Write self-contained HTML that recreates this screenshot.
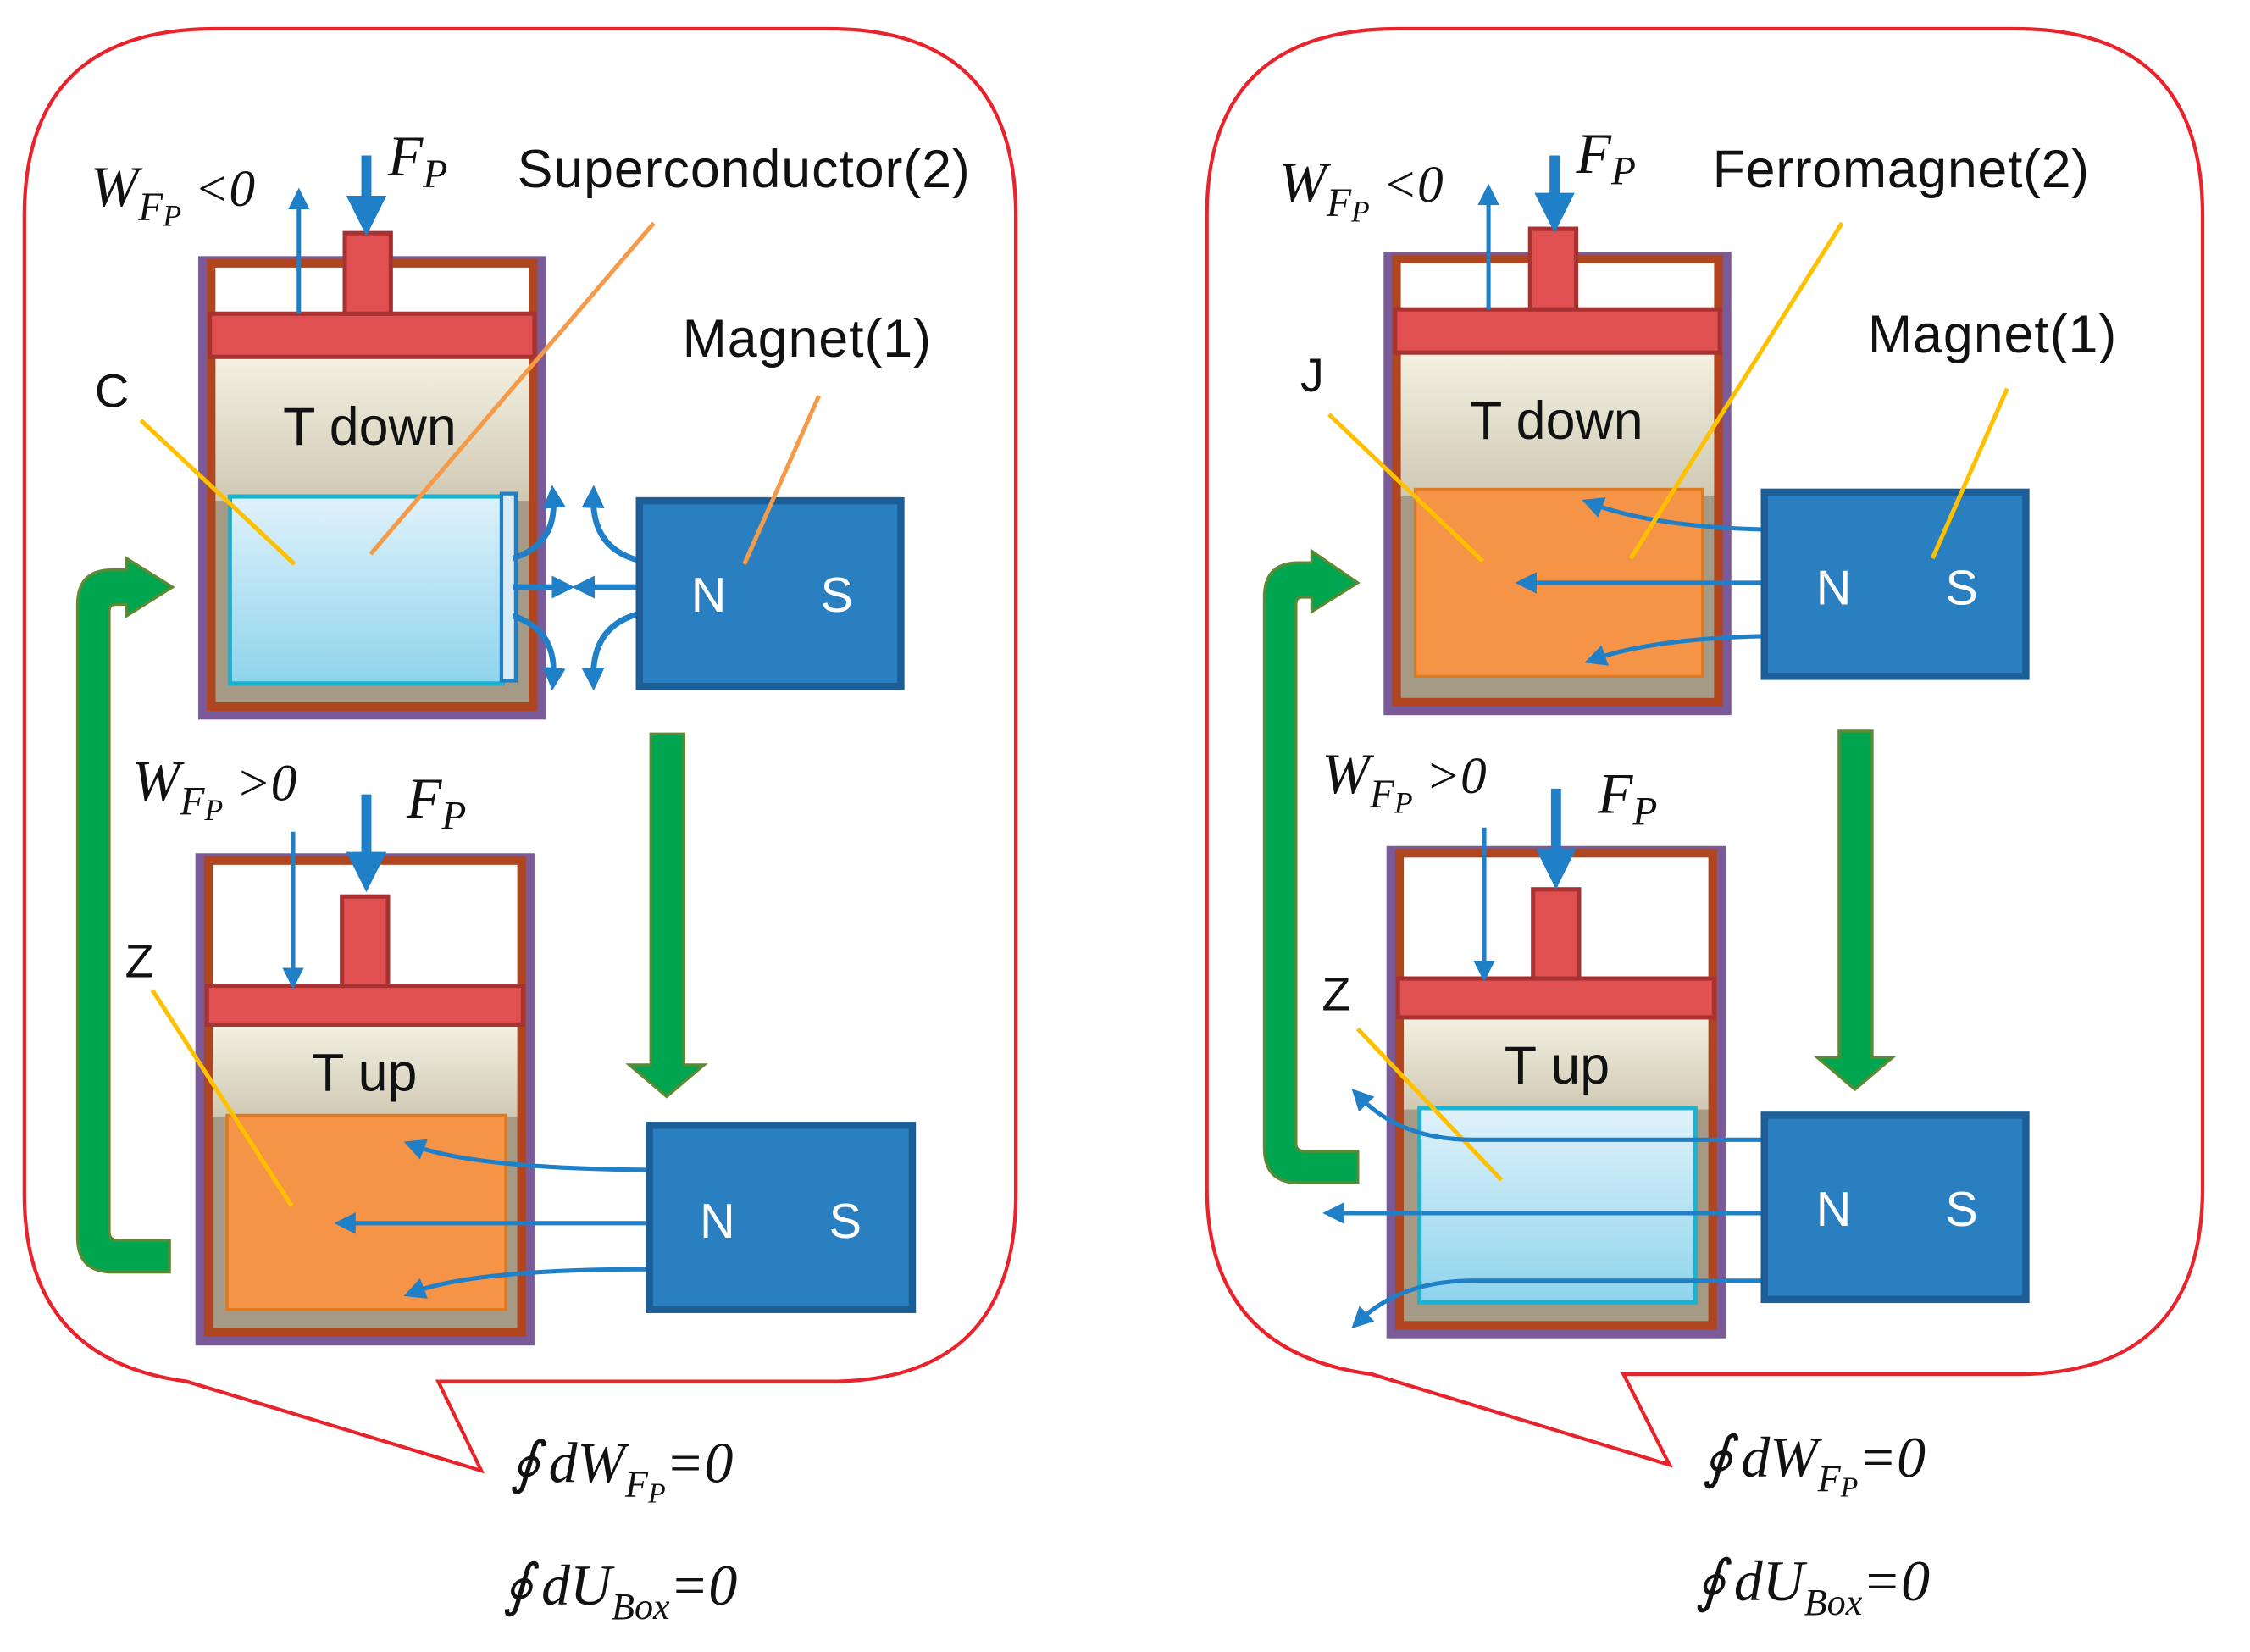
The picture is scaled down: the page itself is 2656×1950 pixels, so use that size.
<!DOCTYPE html>
<html><head><meta charset="utf-8"><style>
html,body{margin:0;padding:0;background:#fff;}
svg{display:block;}
.lab{font-family:"Liberation Sans",sans-serif;fill:#111;}
.m{font-family:"Liberation Serif",serif;font-style:italic;fill:#111;}
.ns{font-family:"Liberation Sans",sans-serif;fill:#fff;font-size:34px;}
</style></head><body>
<svg width="2656" height="1950" viewBox="0 0 1566 1148" preserveAspectRatio="none" xmlns="http://www.w3.org/2000/svg">
<defs>
<linearGradient id="gas" x1="0" y1="0" x2="0" y2="1"><stop offset="0" stop-color="#f4f1e2"/><stop offset="1" stop-color="#cfc9b4"/></linearGradient>
<linearGradient id="ice" x1="0" y1="0" x2="0" y2="1"><stop offset="0" stop-color="#e0f2fb"/><stop offset="1" stop-color="#8ed4ec"/></linearGradient>
<marker id="ah" markerWidth="5" markerHeight="5" refX="2.5" refY="2.5" orient="auto" markerUnits="strokeWidth"><path d="M0,0 L5,2.5 L0,5 Z" fill="#1f7fc7"/></marker>
<marker id="ah2" markerWidth="4" markerHeight="4" refX="2" refY="2" orient="auto" markerUnits="strokeWidth"><path d="M0,0 L4,2 L0,4 Z" fill="#1f7fc7"/></marker>
<g id="cyl">
  <rect x="0" y="0" width="242" height="322" fill="#7a5a98"/>
  <rect x="6" y="2" width="230" height="314" fill="#b0461f"/>
  <rect x="12" y="8" width="218" height="302" fill="#a49a86"/>
  <rect x="12" y="8" width="218" height="32" fill="#fff"/>
  <rect x="12" y="70" width="218" height="100" fill="url(#gas)"/>
  <rect x="8" y="40" width="226" height="30" fill="#e05050" stroke="#a83232" stroke-width="3"/>
  <rect x="102" y="-16" width="32" height="56" fill="#e05050" stroke="#a83232" stroke-width="3"/>
</g>
<g id="cylb">
  <rect x="0" y="0" width="236" height="342" fill="#7a5a98"/>
  <rect x="6" y="2" width="224" height="334" fill="#b0461f"/>
  <rect x="12" y="8" width="212" height="322" fill="#a49a86"/>
  <rect x="12" y="8" width="212" height="84" fill="#fff"/>
  <rect x="12" y="119" width="212" height="64" fill="url(#gas)"/>
  <rect x="8" y="92" width="220" height="27" fill="#e05050" stroke="#a83232" stroke-width="3"/>
  <rect x="102" y="30" width="32" height="62" fill="#e05050" stroke="#a83232" stroke-width="3"/>
</g>
</defs>

<!-- LEFT callout -->
<path d="M150,20 H577 Q707,20 707,150 V830 Q707,960 577,960 H305 L335,1022 L130,960 Q17,945 17,830 V150 Q17,20 150,20 Z" fill="none" stroke="#e8232b" stroke-width="2.5"/>
<!-- RIGHT callout -->
<path d="M973,20 H1403 Q1533,20 1533,150 V825 Q1533,955 1403,955 H1130 L1162,1018 L955,955 Q840,940 840,825 V150 Q840,20 973,20 Z" fill="none" stroke="#e8232b" stroke-width="2.5"/>

<!-- LEFT top cylinder -->
<use href="#cyl" x="138" y="178"/>
<rect x="160" y="345" width="190" height="130" fill="url(#ice)" stroke="#17b3d0" stroke-width="3"/>
<rect x="349" y="343" width="10" height="130" fill="#d8ecf8" stroke="#1f7fc7" stroke-width="2.5"/>
<text class="lab" x="197" y="309" font-size="37">T down</text>
<g fill="none" stroke="#1f7fc7" stroke-width="4">
<path d="M357,388 Q388,378 385,345" marker-end="url(#ah2)"/>
<path d="M443,389 Q412,380 413,345" marker-end="url(#ah2)"/>
<path d="M357,408 H392" marker-end="url(#ah2)"/>
<path d="M443,408 H406" marker-end="url(#ah2)"/>
<path d="M357,428 Q388,438 385,472" marker-end="url(#ah2)"/>
<path d="M443,427 Q412,436 413,472" marker-end="url(#ah2)"/>
</g>
<rect x="445" y="348" width="182" height="129" fill="#2a7fc1" stroke="#1c5f98" stroke-width="5"/>
<text class="ns" x="481" y="425">N</text><text class="ns" x="571" y="425">S</text>
<line x1="455" y1="155" x2="258" y2="385" stroke="#f59a48" stroke-width="3"/>
<line x1="570" y1="275" x2="518" y2="392" stroke="#f59a48" stroke-width="3"/>
<line x1="98" y1="292" x2="205" y2="392" stroke="#ffc000" stroke-width="3"/>
<line x1="208" y1="218" x2="208" y2="138" stroke="#1f7fc7" stroke-width="3" marker-end="url(#ah)"/>
<line x1="255" y1="108" x2="255" y2="150" stroke="#1f7fc7" stroke-width="7" marker-end="url(#ah2)"/>
<text class="m" x="63" y="143" font-size="40">W<tspan font-size="28" dy="10">F</tspan><tspan font-size="21" dy="4">P</tspan><tspan font-size="36" dy="-14"> &lt;0</tspan></text>
<text class="m" x="270" y="122" font-size="40">F<tspan font-size="28" dy="8">P</tspan></text>
<text class="lab" x="360" y="130" font-size="37" textLength="315">Superconductor(2)</text>
<text class="lab" x="475" y="248" font-size="37" textLength="173">Magnet(1)</text>
<text class="lab" x="66" y="283" font-size="33">C</text>

<!-- green arrows left -->
<path d="M453,510 H476 V740 H490 L464,762 L438,740 H453 Z" fill="#00a550" stroke="#5c8a34" stroke-width="2"/>
<path d="M118,884 H78 Q54,884 54,860 V420 Q54,396 78,396 H88 V388 L120,408 L88,428 V420 H80 Q76,420 76,425 V856 Q76,862 82,862 H118 Z" fill="#00a550" stroke="#5c8a34" stroke-width="2"/>

<!-- LEFT bottom cylinder -->
<use href="#cylb" x="136" y="593"/>
<rect x="158" y="775" width="194" height="135" fill="#f59346" stroke="#e07a20" stroke-width="2"/>
<text class="lab" x="217" y="758" font-size="37">T up</text>
<line x1="204" y1="578" x2="204" y2="680" stroke="#1f7fc7" stroke-width="3" marker-end="url(#ah)"/>
<line x1="255" y1="552" x2="255" y2="606" stroke="#1f7fc7" stroke-width="7" marker-end="url(#ah2)"/>
<text class="m" x="92" y="556" font-size="40">W<tspan font-size="28" dy="10">F</tspan><tspan font-size="21" dy="4">P</tspan><tspan font-size="36" dy="-14"> &gt;0</tspan></text>
<text class="m" x="283" y="568" font-size="40">F<tspan font-size="28" dy="8">P</tspan></text>
<text class="lab" x="87" y="679" font-size="33">Z</text>
<line x1="106" y1="688" x2="203" y2="838" stroke="#ffc000" stroke-width="3"/>
<g fill="none" stroke="#1f7fc7" stroke-width="3">
<path d="M452,813 Q330,812 288,796" marker-end="url(#ah)"/>
<path d="M452,850 H240" marker-end="url(#ah)"/>
<path d="M452,882 Q330,882 288,898" marker-end="url(#ah)"/>
</g>
<rect x="452" y="782" width="183" height="128" fill="#2a7fc1" stroke="#1c5f98" stroke-width="5"/>
<text class="ns" x="487" y="860">N</text><text class="ns" x="577" y="860">S</text>

<text class="m" x="355" y="1030" font-size="40">∮<tspan dx="6">dW</tspan><tspan font-size="26" dy="10">F</tspan><tspan font-size="20" dy="4">P</tspan><tspan dy="-14">=0</tspan></text>
<text class="m" x="350" y="1115" font-size="40">∮<tspan dx="6">dU</tspan><tspan font-size="26" dy="10">Box</tspan><tspan dy="-10">=0</tspan></text>

<!-- RIGHT top cylinder -->
<use href="#cyl" x="963" y="175"/>
<rect x="985" y="340" width="200" height="130" fill="#f59346" stroke="#e07a20" stroke-width="2"/>
<text class="lab" x="1023" y="305" font-size="37">T down</text>
<g fill="none" stroke="#1f7fc7" stroke-width="3">
<path d="M1228,368 Q1150,366 1108,350" marker-end="url(#ah)"/>
<path d="M1228,405 H1062" marker-end="url(#ah)"/>
<path d="M1228,442 Q1150,444 1110,458" marker-end="url(#ah)"/>
</g>
<rect x="1228" y="342" width="182" height="128" fill="#2a7fc1" stroke="#1c5f98" stroke-width="5"/>
<text class="ns" x="1264" y="420">N</text><text class="ns" x="1354" y="420">S</text>
<line x1="925" y1="288" x2="1032" y2="390" stroke="#ffc000" stroke-width="3"/>
<line x1="1282" y1="155" x2="1135" y2="388" stroke="#ffc000" stroke-width="3"/>
<line x1="1397" y1="270" x2="1345" y2="388" stroke="#ffc000" stroke-width="3"/>
<line x1="1036" y1="215" x2="1036" y2="135" stroke="#1f7fc7" stroke-width="3" marker-end="url(#ah)"/>
<line x1="1082" y1="108" x2="1082" y2="148" stroke="#1f7fc7" stroke-width="7" marker-end="url(#ah2)"/>
<text class="m" x="890" y="140" font-size="40">W<tspan font-size="28" dy="10">F</tspan><tspan font-size="21" dy="4">P</tspan><tspan font-size="36" dy="-14"> &lt;0</tspan></text>
<text class="m" x="1097" y="120" font-size="40">F<tspan font-size="28" dy="8">P</tspan></text>
<text class="lab" x="1192" y="130" font-size="37" textLength="262">Ferromagnet(2)</text>
<text class="lab" x="1300" y="245" font-size="37" textLength="173">Magnet(1)</text>
<text class="lab" x="905" y="272" font-size="33">J</text>

<path d="M1280,508 H1303 V735 H1317 L1291,757 L1265,735 H1280 Z" fill="#00a550" stroke="#5c8a34" stroke-width="2"/>
<path d="M945,822 H904 Q880,822 880,798 V415 Q880,391 904,391 H913 V383 L945,405 L913,425 V415 H906 Q902,415 902,420 V795 Q902,800 908,800 H945 Z" fill="#00a550" stroke="#5c8a34" stroke-width="2"/>

<!-- RIGHT bottom cylinder -->
<use href="#cylb" x="965" y="588"/>
<rect x="988" y="770" width="192" height="135" fill="url(#ice)" stroke="#17b3d0" stroke-width="3"/>
<text class="lab" x="1047" y="753" font-size="37">T up</text>
<line x1="1033" y1="575" x2="1033" y2="675" stroke="#1f7fc7" stroke-width="3" marker-end="url(#ah)"/>
<line x1="1083" y1="548" x2="1083" y2="604" stroke="#1f7fc7" stroke-width="7" marker-end="url(#ah2)"/>
<text class="m" x="920" y="551" font-size="40">W<tspan font-size="28" dy="10">F</tspan><tspan font-size="21" dy="4">P</tspan><tspan font-size="36" dy="-14"> &gt;0</tspan></text>
<text class="m" x="1112" y="565" font-size="40">F<tspan font-size="28" dy="8">P</tspan></text>
<text class="lab" x="920" y="702" font-size="33">Z</text>
<line x1="945" y1="715" x2="1045" y2="820" stroke="#ffc000" stroke-width="3"/>
<g fill="none" stroke="#1f7fc7" stroke-width="3">
<path d="M1228,792 H1025 Q975,792 946,762" marker-end="url(#ah)"/>
<path d="M1228,843 H928" marker-end="url(#ah)"/>
<path d="M1228,890 H1025 Q975,890 946,918" marker-end="url(#ah)"/>
</g>
<rect x="1228" y="775" width="182" height="128" fill="#2a7fc1" stroke="#1c5f98" stroke-width="5"/>
<text class="ns" x="1264" y="852">N</text><text class="ns" x="1354" y="852">S</text>

<text class="m" x="1185" y="1026" font-size="40">∮<tspan dx="6">dW</tspan><tspan font-size="26" dy="10">F</tspan><tspan font-size="20" dy="4">P</tspan><tspan dy="-14">=0</tspan></text>
<text class="m" x="1180" y="1112" font-size="40">∮<tspan dx="6">dU</tspan><tspan font-size="26" dy="10">Box</tspan><tspan dy="-10">=0</tspan></text>
</svg>
</body></html>
